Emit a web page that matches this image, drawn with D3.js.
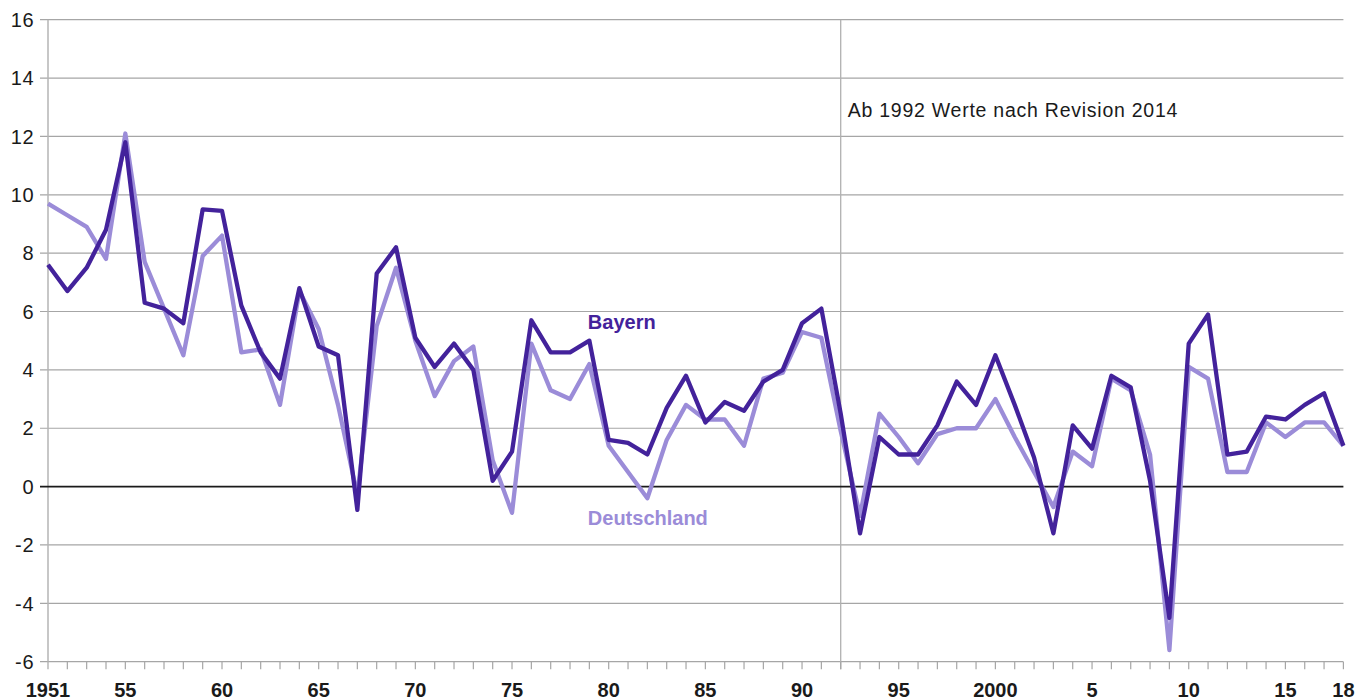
<!DOCTYPE html>
<html>
<head>
<meta charset="utf-8">
<script src="https://cdn.jsdelivr.net/npm/d3@7"></script>
<style>
  html, body { margin: 0; padding: 0; background: #ffffff; }
  svg { display: block; }
  text { font-family: "Liberation Sans", Arial, Helvetica, sans-serif; }
</style>
</head>
<body>
<svg id="chart" width="1371" height="700"></svg>
<script>
const years = d3.range(1951, 2019);

const bayern = [
  7.6, 6.7, 7.5, 8.8, 11.8, 6.3, 6.1, 5.6, 9.5, 9.45,
  6.2, 4.6, 3.7, 6.8, 4.8, 4.5, -0.8, 7.3, 8.2, 5.1,
  4.1, 4.9, 4.0, 0.2, 1.2, 5.7, 4.6, 4.6, 5.0, 1.6,
  1.5, 1.1, 2.7, 3.8, 2.2, 2.9, 2.6, 3.6, 4.0, 5.6,
  6.1, 2.5, -1.6, 1.7, 1.1, 1.1, 2.1, 3.6, 2.8, 4.5,
  2.8, 1.0, -1.6, 2.1, 1.3, 3.8, 3.4, 0.2, -4.5, 4.9,
  5.9, 1.1, 1.2, 2.4, 2.3, 2.8, 3.2, 1.4
];

const deutschland = [
  9.7, 9.3, 8.9, 7.8, 12.1, 7.7, 6.1, 4.5, 7.9, 8.6,
  4.6, 4.7, 2.8, 6.7, 5.4, 2.8, -0.3, 5.5, 7.5, 5.0,
  3.1, 4.3, 4.8, 0.9, -0.9, 4.9, 3.3, 3.0, 4.2, 1.4,
  0.5, -0.4, 1.6, 2.8, 2.3, 2.3, 1.4, 3.7, 3.9, 5.3,
  5.1, 1.9, -1.0, 2.5, 1.7, 0.8, 1.8, 2.0, 2.0, 3.0,
  1.7, 0.5, -0.7, 1.2, 0.7, 3.7, 3.3, 1.1, -5.6, 4.1,
  3.7, 0.5, 0.5, 2.2, 1.7, 2.2, 2.2, 1.4
];

const yTicks = [-6, -4, -2, 0, 2, 4, 6, 8, 10, 12, 14, 16];
const xLabelYears = [1951, 1955, 1960, 1965, 1970, 1975, 1980, 1985, 1990, 1995, 2000, 2005, 2010, 2015, 2018];
const xLabelTexts = ["1951", "55", "60", "65", "70", "75", "80", "85", "90", "95", "2000", "5", "10", "15", "18"];
const revisionYear = 1992;
const annotationText = "Ab 1992 Werte nach Revision 2014";
const seriesNames = ["Bayern", "Deutschland"];

const W = 1371, H = 700;
const margin = { top: 19.7, right: 27.6, bottom: 38.3, left: 48 };
const colDark = "#43229b";
const colLight = "#9b8cd8";
const gridCol = "#a6a6a6";

const svg = d3.select("#chart");
const x = d3.scaleLinear().domain([1951, 2018]).range([margin.left, W - margin.right]);
const y = d3.scaleLinear().domain([-6, 16]).range([H - margin.bottom, margin.top]);

// horizontal gridlines (extend left as tick marks)
svg.append("g").selectAll("line").data(yTicks.filter(d => d !== 0)).join("line")
  .attr("x1", margin.left - 8).attr("x2", W - margin.right)
  .attr("y1", d => y(d)).attr("y2", d => y(d))
  .attr("stroke", gridCol).attr("stroke-width", 1.2);

// y axis line
svg.append("line")
  .attr("x1", margin.left).attr("x2", margin.left)
  .attr("y1", y(16)).attr("y2", y(-6))
  .attr("stroke", "#b5b5b5").attr("stroke-width", 1.5);

// revision vertical line
svg.append("line")
  .attr("x1", x(revisionYear)).attr("x2", x(revisionYear))
  .attr("y1", y(16)).attr("y2", y(-6) + 7.5)
  .attr("stroke", "#b0b0b0").attr("stroke-width", 1.3);

// x axis ticks
svg.append("g").selectAll("line").data(years).join("line")
  .attr("x1", d => x(d)).attr("x2", d => x(d))
  .attr("y1", y(-6)).attr("y2", y(-6) + 7.5)
  .attr("stroke", gridCol).attr("stroke-width", 1.2);

// zero line
svg.append("line")
  .attr("x1", margin.left - 8).attr("x2", W - margin.right)
  .attr("y1", y(0)).attr("y2", y(0))
  .attr("stroke", "#1a1a1a").attr("stroke-width", 1.6);

// y labels
svg.append("g").selectAll("text").data(yTicks).join("text")
  .attr("x", 34.5).attr("y", d => y(d)).attr("dy", "0.36em")
  .attr("text-anchor", "end").attr("font-size", 20).attr("letter-spacing", "0.8px").attr("fill", "#1a1a1a")
  .text(d => d);

// x labels
svg.append("g").selectAll("text").data(xLabelYears).join("text")
  .attr("x", d => x(d)).attr("y", 697)
  .attr("text-anchor", "middle").attr("font-size", 20).attr("font-weight", "bold").attr("fill", "#1a1a1a")
  .text((d, i) => xLabelTexts[i]);

// lines
const line = d3.line().x((d, i) => x(years[i])).y(d => y(d));
svg.append("path").datum(deutschland).attr("d", line)
  .attr("fill", "none").attr("stroke", colLight).attr("stroke-width", 4.3)
  .attr("stroke-linejoin", "round");
svg.append("path").datum(bayern).attr("d", line)
  .attr("fill", "none").attr("stroke", colDark).attr("stroke-width", 4.3)
  .attr("stroke-linejoin", "round");

// series labels
svg.append("text").attr("x", x(1978.92)).attr("y", y(5.4))
  .attr("font-size", 20).attr("font-weight", "bold").attr("fill", colDark)
  .text(seriesNames[0]);
svg.append("text").attr("x", x(1978.92)).attr("y", y(-1.32))
  .attr("font-size", 20).attr("font-weight", "bold").attr("fill", colLight)
  .text(seriesNames[1]);

// annotation
svg.append("text").attr("x", x(revisionYear) + 7).attr("y", y(12.67))
  .attr("font-size", 19.5).attr("letter-spacing", "0.75px").attr("fill", "#1a1a1a")
  .text(annotationText);
</script>
</body>
</html>
